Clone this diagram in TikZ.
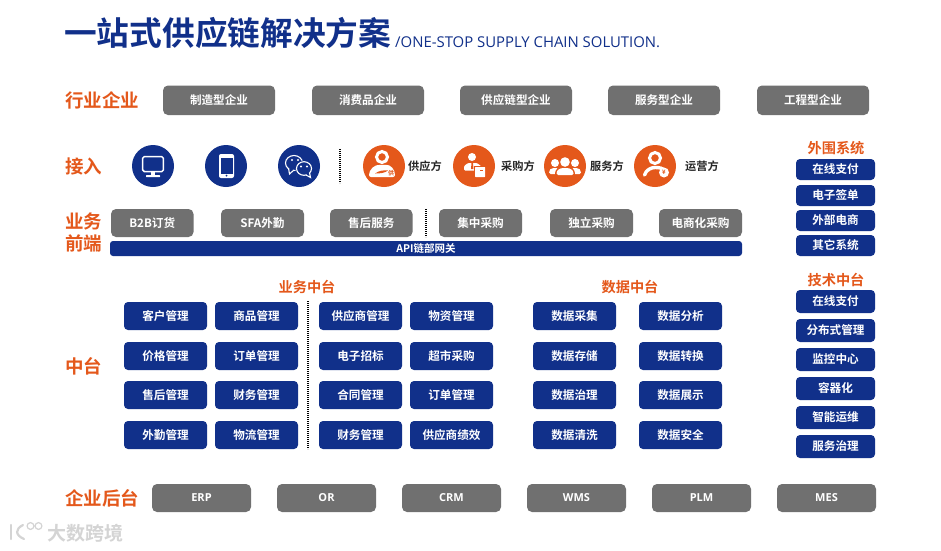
\documentclass[tikz,border=0pt]{standalone}
\usepackage{fontspec}
\setmainfont{Noto Sans CJK SC}[BoldFont={* Bold}]
\setsansfont{Open Sans}
\definecolor{navy}{HTML}{11308A}
\definecolor{org}{HTML}{E4581B}
\definecolor{gbtn}{HTML}{707070}
\definecolor{wm}{HTML}{D4D4D4}
\tikzset{x=1pt,y=-1pt,
  btn/.style={text=white,font=\bfseries\fontsize{11.6}{12}\selectfont,inner sep=0pt},
  sansbtn/.style={text=white,font=\sffamily\bfseries\fontsize{11}{12}\selectfont,inner sep=0pt},
  lefthead/.style={text=org,font=\bfseries\fontsize{18.5}{20}\selectfont,inner sep=0pt},
  capsm/.style={text=org,font=\bfseries\fontsize{14.2}{15}\selectfont,inner sep=0pt},
  who/.style={text=black!85,font=\bfseries\fontsize{11.2}{11}\selectfont,inner sep=0pt},
  sepline/.style={black,line width=1.4pt,dash pattern=on 1.2pt off 0.8pt},
  icl/.style={draw=white,line width=1.5pt,fill=none}}
\newcommand{\gb}[6]{\fill[gbtn,rounded corners=5pt] (#1,#3) rectangle (#2,#4);
  \node[btn] (#5) at ({(#1+#2)/2},{(#3+#4)/2}) {#6};}
\newcommand{\gs}[6]{\fill[gbtn,rounded corners=5pt] (#1,#3) rectangle (#2,#4);
  \node[sansbtn] (#5) at ({(#1+#2)/2},{(#3+#4)/2}) {#6};}
\newcommand{\bb}[6]{\fill[navy,rounded corners=4pt] (#1,#3) rectangle (#2,#4);
  \node[btn] (#5) at ({(#1+#2)/2},{(#3+#4)/2}) {#6};}
\begin{document}
\begin{tikzpicture}
\useasboundingbox (0,0) rectangle (941,550);
\fill[white] (0,0) rectangle (941,550);
% title
\node[anchor=west,inner sep=0pt,text=navy,font=\bfseries\fontsize{32.7}{33}\selectfont] (title) at (64,33) {一站式供应链解决方案};
\node[anchor=west,inner sep=0pt,text=navy,font=\sffamily\fontsize{14.9}{15}\selectfont] (sub) at (395,42) {/ONE-STOP SUPPLY CHAIN SOLUTION.};
% left captions
\node[lefthead,anchor=west] (c1) at (65,100) {行业企业};
\node[lefthead,anchor=west] (c2) at (65,166) {接入};
\node[lefthead,anchor=west,align=left,font=\bfseries\fontsize{18.5}{22}\selectfont] (c3) at (65,232) {业务\\前端};
\node[lefthead,anchor=west] (c4) at (65,366) {中台};
\node[lefthead,anchor=west] (c5) at (65,498) {企业后台};
% row 1
\gb{163}{275}{85.5}{115}{r1a}{制造型企业}
\gb{312}{424}{85.5}{115}{r1b}{消费品企业}
\gb{460}{572}{85.5}{115}{r1c}{供应链型企业}
\gb{608}{720}{85.5}{115}{r1d}{服务型企业}
\gb{757}{869}{85.5}{115}{r1e}{工程型企业}
% access circles
\foreach \n/\x in {ba/153,bb/226,bc/299}{\node[circle,fill=navy,minimum size=42pt,inner sep=0pt] (\n) at (\x,166) {};}
\foreach \n/\x in {oa/384,ob/474,oc/565,od/655}{\node[circle,fill=org,minimum size=42pt,inner sep=0pt] (\n) at (\x,166) {};}
% monitor
\draw[icl,rounded corners=1.5pt] (142.7,156.7) rectangle (163.3,171.5);
\fill[white] (151,172) rectangle (155,175.5);
\fill[white,rounded corners=0.5pt] (146,175.2) rectangle (160,177);
% phone
\fill[white,rounded corners=2pt] (219,154) rectangle (234,178);
\fill[navy] (220.5,157.5) rectangle (232.5,173.5);
\fill[navy] (226.5,175.7) circle (1pt);
% wechat
\draw[icl,line width=1.1pt] (294,163) ellipse (8.5pt and 7.5pt);
\draw[icl,line width=1.1pt,fill=navy] (288.5,168) -- (289.5,174) -- (294,170);
\fill[navy] (290,167) -- (293,167) -- (293,170) -- cycle;
\fill[navy] (304,168.5) ellipse (8.8pt and 8pt);
\draw[icl,line width=1.1pt] (304,168.5) ellipse (7.5pt and 6.8pt);
\draw[icl,line width=1.1pt,fill=navy] (306,175) -- (310.5,177.5) -- (309.5,172.5);
\fill[navy] (306.5,173.5) -- (309,172.5) -- (308,175.5) -- cycle;
\foreach \p in {(292,160),(298,160),(301,166.5),(307,166.5)}{\fill[white] \p circle (1.2pt);}
% supplier icon
\draw[icl,line width=3pt] (382,157) ellipse (5.5pt and 5.5pt);
\fill[white,rounded corners=2pt] (369,177) .. controls (369,170) and (374,164) .. (383,165) .. controls (391,164) and (395,170) .. (395,177) -- cycle;
\fill[org] (375,173.5) .. controls (379,170.5) and (384,170) .. (388,170.5) .. controls (385,173) and (380,173.5) .. (375,173.5) -- cycle;
\node[text=org,inner sep=0pt,font=\bfseries\fontsize{6}{6}\selectfont] (oat) at (391,173.5) {供};
% buyer icon
\fill[white] (472,157) circle (4pt);
\fill[white,rounded corners=1pt] (464,170.5) -- (464,166) -- (468,163) -- (477,163) -- (481,166) -- (481,170.5) -- cycle;
\fill[org] (471.5,163) -- (473,163) -- (473.5,169) -- (471,169) -- cycle;
\fill[org] (474,166) rectangle (486,178);
\fill[white,rounded corners=0.5pt] (475,167) rectangle (485,177);
\fill[org] (480,170) rectangle (483,171.3);
% service icon
\fill[white] (555,163) circle (4pt);
\fill[white] (575,163) circle (4pt);
\fill[white,rounded corners=1.5pt] (549,174) .. controls (549,170) and (551,168) .. (555,168) .. controls (559,168) and (561,170) .. (561,174) -- cycle;
\fill[white,rounded corners=1.5pt] (569,174) .. controls (569,170) and (571,168) .. (575,168) .. controls (579,168) and (581,170) .. (581,174) -- cycle;
\fill[org] (565,162) circle (6pt);
\fill[org] (555,175) .. controls (555,168) and (559,166) .. (565,166) .. controls (571,166) and (575,168) .. (575,175) -- cycle;
\fill[white] (565,162) circle (4.8pt);
\fill[white,rounded corners=1.5pt] (556.5,175) .. controls (556.5,170) and (560,168) .. (565,168) .. controls (570,168) and (573.5,170) .. (573.5,175) -- cycle;
% operator icon
\draw[icl,line width=3pt] (655,158) ellipse (5.5pt and 5.5pt);
\draw[icl,line width=3.4pt,line cap=round] (644.5,175) .. controls (646,170) and (651,167.5) .. (655,167.5) .. controls (659,167.5) and (663,168) .. (665,171);
\fill[white] (664,172.5) circle (5pt);
\node[text=org,inner sep=0pt,font=\bfseries\fontsize{6}{6}\selectfont] (odt) at (664,172.5) {¥};
% who labels
\node[who] (wa) at (425,166) {供应方};
\node[who] (wb) at (518,166) {采购方};
\node[who] (wc) at (607,166) {服务方};
\node[who] (wd) at (702,166) {运营方};
% separators
\draw[sepline] (340,149) -- (340,183);
\draw[sepline] (426,209) -- (426,237);
\draw[sepline] (308,301) -- (308,449);
% front row
\gb{111}{193.5}{209}{237}{f1}{B2B订货}
\gb{221}{304}{209}{237}{f2}{SFA外勤}
\gb{330}{412.5}{209}{237}{f3}{售后服务}
\gb{439}{522}{209}{237}{f4}{集中采购}
\gb{550}{633}{209}{237}{f5}{独立采购}
\gb{659}{742}{209}{237}{f6}{电商化采购}
\fill[navy,rounded corners=3pt] (110,241) rectangle (742,256);
\node[btn,font=\bfseries\fontsize{10.5}{10}\selectfont] (api) at (426,248.5) {API链部网关};
% middle captions
\node[capsm] (m1) at (307,287) {业务中台};
\node[capsm] (m2) at (630,287) {数据中台};
% middle grid
\newcommand{\rowb}[9]{%
 \bb{124}{207}{#1}{#2}{g#3a}{#4}\bb{215}{298}{#1}{#2}{g#3b}{#5}%
 \bb{319}{402}{#1}{#2}{g#3c}{#6}\bb{410}{493}{#1}{#2}{g#3d}{#7}%
 \bb{533}{616}{#1}{#2}{g#3e}{#8}\bb{639}{722}{#1}{#2}{g#3f}{#9}}
\rowb{302}{330}{1}{客户管理}{商品管理}{供应商管理}{物资管理}{数据采集}{数据分析}
\rowb{342}{370}{2}{价格管理}{订单管理}{电子招标}{超市采购}{数据存储}{数据转换}
\rowb{381}{409}{3}{售后管理}{财务管理}{合同管理}{订单管理}{数据治理}{数据展示}
\rowb{421}{449}{4}{外勤管理}{物流管理}{财务管理}{供应商绩效}{数据清洗}{数据安全}
% right column
\node[capsm] (e0) at (836,148) {外围系统};
\bb{796}{875}{159}{180}{e1}{在线支付}
\bb{796}{875}{185}{206}{e2}{电子签单}
\bb{796}{875}{210}{231}{e3}{外部电商}
\bb{796}{875}{235}{256}{e4}{其它系统}
\node[capsm] (t0) at (836,280) {技术中台};
\bb{796}{875}{290}{313}{t1}{在线支付}
\bb{796}{875}{319}{342}{t2}{分布式管理}
\bb{796}{875}{348}{371}{t3}{监控中心}
\bb{796}{875}{377}{400}{t4}{容器化}
\bb{796}{875}{406}{429}{t5}{智能运维}
\bb{796}{875}{435}{458}{t6}{服务治理}
% bottom row
\gs{152}{251}{484}{512}{b1}{ERP}
\gs{277}{376}{484}{512}{b2}{OR}
\gs{402}{501}{484}{512}{b3}{CRM}
\gs{527}{626}{484}{512}{b4}{WMS}
\gs{652}{751}{484}{512}{b5}{PLM}
\gs{777}{876}{484}{512}{b6}{MES}
% watermark
\draw[wm,line width=2.2pt,line cap=round] (11,525) -- (11,539);
\draw[wm,line width=2.2pt,line cap=round] (23,525) .. controls (15,529) and (15,535) .. (24,539);
\draw[wm,line width=1.2pt] (30.5,526) circle (3.4pt) (38.5,526) circle (3.4pt);
\node[anchor=west,inner sep=0pt,text=wm,font=\bfseries\fontsize{19}{19}\selectfont] (wmk) at (47,533) {大数跨境};
\end{tikzpicture}
\end{document}
